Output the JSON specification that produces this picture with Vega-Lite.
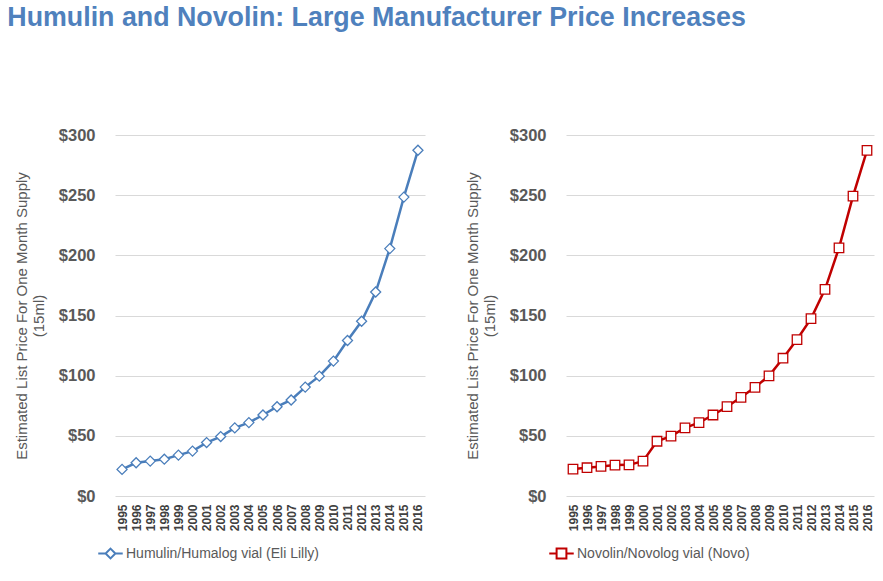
{
  "$schema": "https://vega.github.io/schema/vega-lite/v6.json",
  "padding": {"left": 7, "top": 5, "right": 5, "bottom": 5},
  "title": {"text": "Humulin and Novolin: Large Manufacturer Price Increases", "anchor": "start", "font": "Liberation Sans", "fontSize": 26.8, "fontWeight": "bold", "color": "#4F81BD", "offset": 95, "dx": -7},
  "config": {"view": {"stroke": null}, "font": "Liberation Sans"},
  "datasets": {
    "prices": [
      {"year": "1995", "price": 22.1, "series": "Humulin/Humalog vial (Eli Lilly)"},
      {"year": "1996", "price": 27.6, "series": "Humulin/Humalog vial (Eli Lilly)"},
      {"year": "1997", "price": 29.0, "series": "Humulin/Humalog vial (Eli Lilly)"},
      {"year": "1998", "price": 30.6, "series": "Humulin/Humalog vial (Eli Lilly)"},
      {"year": "1999", "price": 34.0, "series": "Humulin/Humalog vial (Eli Lilly)"},
      {"year": "2000", "price": 37.3, "series": "Humulin/Humalog vial (Eli Lilly)"},
      {"year": "2001", "price": 44.4, "series": "Humulin/Humalog vial (Eli Lilly)"},
      {"year": "2002", "price": 49.4, "series": "Humulin/Humalog vial (Eli Lilly)"},
      {"year": "2003", "price": 56.6, "series": "Humulin/Humalog vial (Eli Lilly)"},
      {"year": "2004", "price": 61.0, "series": "Humulin/Humalog vial (Eli Lilly)"},
      {"year": "2005", "price": 67.3, "series": "Humulin/Humalog vial (Eli Lilly)"},
      {"year": "2006", "price": 74.2, "series": "Humulin/Humalog vial (Eli Lilly)"},
      {"year": "2007", "price": 79.8, "series": "Humulin/Humalog vial (Eli Lilly)"},
      {"year": "2008", "price": 90.5, "series": "Humulin/Humalog vial (Eli Lilly)"},
      {"year": "2009", "price": 99.6, "series": "Humulin/Humalog vial (Eli Lilly)"},
      {"year": "2010", "price": 112.1, "series": "Humulin/Humalog vial (Eli Lilly)"},
      {"year": "2011", "price": 129.2, "series": "Humulin/Humalog vial (Eli Lilly)"},
      {"year": "2012", "price": 145.2, "series": "Humulin/Humalog vial (Eli Lilly)"},
      {"year": "2013", "price": 169.5, "series": "Humulin/Humalog vial (Eli Lilly)"},
      {"year": "2014", "price": 205.6, "series": "Humulin/Humalog vial (Eli Lilly)"},
      {"year": "2015", "price": 248.4, "series": "Humulin/Humalog vial (Eli Lilly)"},
      {"year": "2016", "price": 287.3, "series": "Humulin/Humalog vial (Eli Lilly)"},
      {"year": "1995", "price": 22.4, "series": "Novolin/Novolog vial (Novo)"},
      {"year": "1996", "price": 23.5, "series": "Novolin/Novolog vial (Novo)"},
      {"year": "1997", "price": 24.6, "series": "Novolin/Novolog vial (Novo)"},
      {"year": "1998", "price": 25.7, "series": "Novolin/Novolog vial (Novo)"},
      {"year": "1999", "price": 25.9, "series": "Novolin/Novolog vial (Novo)"},
      {"year": "2000", "price": 29.0, "series": "Novolin/Novolog vial (Novo)"},
      {"year": "2001", "price": 45.5, "series": "Novolin/Novolog vial (Novo)"},
      {"year": "2002", "price": 49.7, "series": "Novolin/Novolog vial (Novo)"},
      {"year": "2003", "price": 56.6, "series": "Novolin/Novolog vial (Novo)"},
      {"year": "2004", "price": 61.0, "series": "Novolin/Novolog vial (Novo)"},
      {"year": "2005", "price": 67.3, "series": "Novolin/Novolog vial (Novo)"},
      {"year": "2006", "price": 74.2, "series": "Novolin/Novolog vial (Novo)"},
      {"year": "2007", "price": 82.0, "series": "Novolin/Novolog vial (Novo)"},
      {"year": "2008", "price": 90.3, "series": "Novolin/Novolog vial (Novo)"},
      {"year": "2009", "price": 99.9, "series": "Novolin/Novolog vial (Novo)"},
      {"year": "2010", "price": 114.5, "series": "Novolin/Novolog vial (Novo)"},
      {"year": "2011", "price": 130.0, "series": "Novolin/Novolog vial (Novo)"},
      {"year": "2012", "price": 147.4, "series": "Novolin/Novolog vial (Novo)"},
      {"year": "2013", "price": 171.7, "series": "Novolin/Novolog vial (Novo)"},
      {"year": "2014", "price": 206.2, "series": "Novolin/Novolog vial (Novo)"},
      {"year": "2015", "price": 249.2, "series": "Novolin/Novolog vial (Novo)"},
      {"year": "2016", "price": 287.3, "series": "Novolin/Novolog vial (Novo)"}
    ]
  },
  "data": {"name": "prices"},
  "spacing": 39,
  "resolve": {"scale": {"color": "independent"}, "legend": {"color": "independent"}},
  "hconcat": [
    {
      "width": 310, "height": 361,
      "transform": [{"filter": "datum.series === 'Humulin/Humalog vial (Eli Lilly)'"}],
      "encoding": {
        "x": {"field": "year", "type": "ordinal", "scale": {"type": "point", "padding": 0.5},
          "axis": {"title": null, "labelAngle": -90, "labelFontWeight": "bold", "labelFontSize": 12, "labelColor": "#404040", "domain": false, "ticks": false, "labelPadding": 8}},
        "y": {"field": "price", "type": "quantitative", "scale": {"domain": [0, 300], "nice": false},
          "axis": {"values": [0, 50, 100, 150, 200, 250, 300], "labelExpr": "'$' + datum.value", "labelFontSize": 16.5, "labelFontWeight": "bold", "labelColor": "#595959", "domain": false, "ticks": false, "labelPadding": 20, "gridColor": "#d9d9d9", "gridWidth": 1,
            "title": ["Estimated List Price For One Month Supply", "(15ml)"], "titleFontSize": 15, "titleFontWeight": "normal", "titleColor": "#595959", "titlePadding": 12}},
        "color": {"field": "series", "type": "nominal", "scale": {"range": ["#4A7EBB"]},
          "legend": {"orient": "none", "legendX": -18, "legendY": 405, "direction": "horizontal", "title": null, "labelFontSize": 14, "labelLimit": 400, "labelColor": "#595959", "labelOffset": 2, "symbolType": "M-1,0H-0.4M0.4,0H1M0,-0.4L0.4,0L0,0.4L-0.4,0Z", "symbolSize": 600, "symbolFillColor": "white", "symbolStrokeWidth": 2}}
      },
      "layer": [
        {"mark": {"type": "line", "strokeWidth": 2.5}},
        {"mark": {"type": "point", "shape": "diamond", "filled": false, "fill": "white", "fillOpacity": 1, "size": 100, "strokeWidth": 1.3, "opacity": 1}}
      ]
    },
    {
      "width": 308, "height": 361,
      "transform": [{"filter": "datum.series === 'Novolin/Novolog vial (Novo)'"}],
      "encoding": {
        "x": {"field": "year", "type": "ordinal", "scale": {"type": "point", "padding": 0.5},
          "axis": {"title": null, "labelAngle": -90, "labelFontWeight": "bold", "labelFontSize": 12, "labelColor": "#404040", "domain": false, "ticks": false, "labelPadding": 8}},
        "y": {"field": "price", "type": "quantitative", "scale": {"domain": [0, 300], "nice": false},
          "axis": {"values": [0, 50, 100, 150, 200, 250, 300], "labelExpr": "'$' + datum.value", "labelFontSize": 16.5, "labelFontWeight": "bold", "labelColor": "#595959", "domain": false, "ticks": false, "labelPadding": 20, "gridColor": "#d9d9d9", "gridWidth": 1,
            "title": ["Estimated List Price For One Month Supply", "(15ml)"], "titleFontSize": 15, "titleFontWeight": "normal", "titleColor": "#595959", "titlePadding": 12}},
        "color": {"field": "series", "type": "nominal", "scale": {"range": ["#C00000"]},
          "legend": {"orient": "none", "legendX": -18, "legendY": 405, "direction": "horizontal", "title": null, "labelFontSize": 14, "labelLimit": 400, "labelColor": "#595959", "labelOffset": 2, "symbolType": "M-1,0H-0.4M0.4,0H1M-0.4,-0.4H0.4V0.4H-0.4Z", "symbolSize": 600, "symbolFillColor": "white", "symbolStrokeWidth": 2}}
      },
      "layer": [
        {"mark": {"type": "line", "strokeWidth": 2.5}},
        {"mark": {"type": "point", "shape": "square", "filled": false, "fill": "white", "fillOpacity": 1, "size": 90, "strokeWidth": 1.3, "opacity": 1}}
      ]
    }
  ]
}
